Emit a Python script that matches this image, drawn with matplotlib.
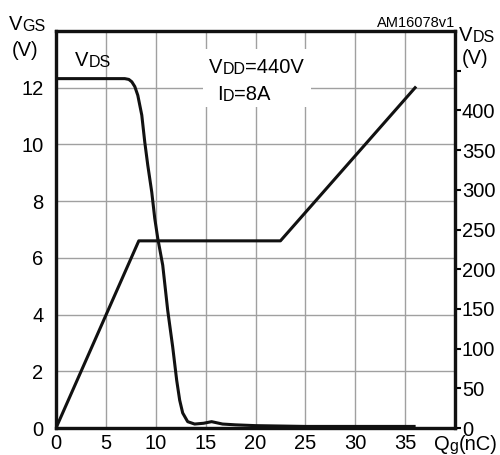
import matplotlib
matplotlib.use("Agg")
import matplotlib.pyplot as plt
from matplotlib.patches import Rectangle
from matplotlib.text import Annotation

plt.rcParams['font.family'] = ['Liberation Sans', 'DejaVu Sans']

# gate charge data
qg_vgs = [0, 8.3, 22.5, 36.0]
vgs = [0, 6.6, 6.6, 12.0]

qg_vds = [0, 6.9, 7.3, 7.6, 7.9, 8.2, 8.6, 8.9, 9.2, 9.6, 9.9, 10.2, 10.7,
          11.2, 11.7, 12.1, 12.4, 12.7, 13.2, 13.9, 14.8, 15.6, 16.7, 18.0,
          20.0, 25.0, 30.0, 35.9]
vds = [440, 440, 439, 436, 430, 419, 394, 360, 331, 297, 264, 239, 205,
       148, 102, 60, 35, 19, 8, 5, 6, 8, 5, 4,
       3, 2, 2, 2]

xticks = [0, 5, 10, 15, 20, 25, 30, 35]
yticks_left = [0, 2, 4, 6, 8, 10, 12]
yticks_right = [0, 50, 100, 150, 200, 250, 300, 350, 400, 450]

fig = plt.figure(figsize=(5, 4.55), dpi=100)
ax = fig.add_axes([0.112, 0.0593, 0.798, 0.8726])
ax2 = ax.twinx()

fs = 14.5
ss = 11.5
ax.set_xlim(0, 40)
ax.set_ylim(0, 14)
ax2.set_ylim(0, 500)

ax.set_xticks(xticks)
ax.set_xticklabels([str(t) for t in xticks], fontsize=fs)
ax.set_yticks(yticks_left)
ax.set_yticklabels([str(t) for t in yticks_left], fontsize=fs)
ax2.set_yticks(yticks_right)
ax2.set_yticklabels([str(t) if t < 450 else "" for t in yticks_right], fontsize=fs)

ax.tick_params(axis='x', length=0, pad=4)
ax.tick_params(axis='y', length=0, pad=9)
ax2.tick_params(axis='y', length=4, width=1.5, pad=1, direction='out')

ax.set_axisbelow(True)
ax.grid(True, color='#a0a0a0', linewidth=1.0)

for a in (ax, ax2):
    for s in a.spines.values():
        s.set_linewidth(2.3)
        s.set_color('#111111')

# white box behind the condition text
ax.add_patch(Rectangle((14.7, 11.33), 10.9, 2.04, facecolor='white',
                       edgecolor='none', zorder=1.5))

ax.plot(qg_vgs, vgs, color='#111111', linewidth=2.2, zorder=3)
ax2.plot(qg_vds, vds, color='#111111', linewidth=2.2, zorder=3)


def chain(x, y, parts):
    # big/small text pieces written one after the other (pixel position)
    first = fig.text(x / 500, 1 - y / 455, parts[0][0], fontsize=parts[0][1],
                     va='baseline')
    last = first
    for txt, size in parts[1:]:
        last = fig.add_artist(Annotation(
            txt, xy=(1, 0), xycoords=(last, first), fontsize=size,
            va='bottom', annotation_clip=False))
    return first


chain(9, 30, [("V", fs), ("GS", ss)])
chain(12, 56, [("(V)", fs)])
chain(459, 41, [("V", fs), ("DS", ss)])
chain(462, 64, [("(V)", fs)])
fig.text(455 / 500, 1 - 27 / 455, "AM16078v1", fontsize=10.5, ha='right',
         va='baseline')
chain(434, 450, [("Q", fs), ("g", ss), ("(nC)", fs)])

chain(75, 66, [("V", fs), ("DS", ss)])
chain(209, 73, [("V", fs), ("DD", ss), ("=440V", fs)])
chain(217, 100, [("I", fs), ("D", ss), ("=8A", fs)])

fig.savefig("out.png", dpi=100)
